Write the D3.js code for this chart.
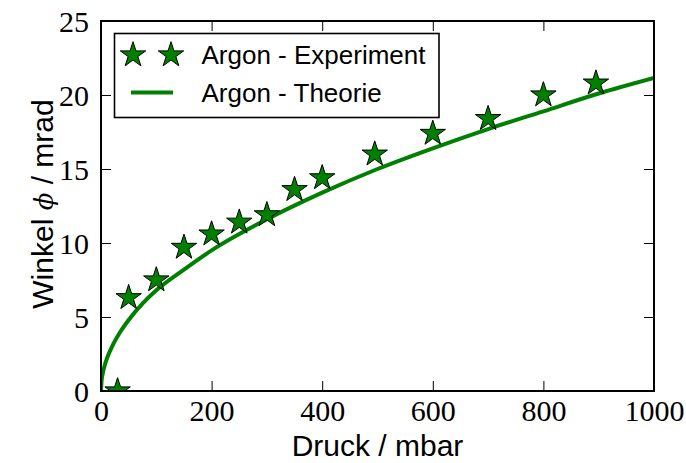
<!DOCTYPE html>
<html>
<head>
<meta charset="utf-8">
<script src="https://cdn.jsdelivr.net/npm/d3@7"></script>
<style>
  html, body { margin: 0; padding: 0; background: #ffffff; }
  svg { display: block; }
</style>
</head>
<body>
<svg id="chart" width="686" height="463"></svg>
<script>
// Measured deflection angle of argon vs. pressure
const expPressure = [30, 50, 100, 150, 200, 250, 300, 350, 400, 495, 600, 700, 800, 895];
const expAngle    = [0.0, 6.3, 7.5, 9.7, 10.6, 11.4, 11.9, 13.6, 14.4, 16.0, 17.4, 18.4, 20.0, 20.8];

// Theoretical curve, sampled
const theoPressure = [0, 1, 3, 6, 10, 20, 35, 50, 75, 100, 150, 200, 300, 400, 500, 600, 700, 800, 900, 1000];
const theoAngle    = [0, 0.67, 1.16, 1.64, 2.12, 3.0, 4.0, 4.8, 5.9, 6.8, 8.2, 9.5, 11.6, 13.4, 15.0, 16.4, 17.7, 18.9, 20.1, 21.15];

const xTicks = [0, 200, 400, 600, 800, 1000];
const yTicks = [0, 5, 10, 15, 20, 25];

const legendLabels = ["Argon - Experiment", "Argon - Theorie"];
const green = "#008000";

const svg = d3.select("#chart");
const box = { left: 101, right: 654, top: 21, bottom: 391 };

const x = d3.scaleLinear().domain([0, 1000]).range([box.left, box.right]);
const y = d3.scaleLinear().domain([0, 25]).range([box.bottom, box.top]);

svg.append("defs").append("clipPath").attr("id", "plotclip")
  .append("rect")
  .attr("x", box.left).attr("y", box.top)
  .attr("width", box.right - box.left).attr("height", box.bottom - box.top);

const plot = svg.append("g").attr("clip-path", "url(#plotclip)");

// theory curve
const line = d3.line()
  .x((d, i) => x(theoPressure[i]))
  .y((d, i) => y(theoAngle[i]))
  .curve(d3.curveMonotoneX);

plot.append("path")
  .datum(theoAngle)
  .attr("d", line)
  .attr("fill", "none")
  .attr("stroke", green)
  .attr("stroke-width", 4)
  .attr("stroke-linejoin", "round");

// experimental stars
const star = d3.symbol().type(d3.symbolStar).size(200);
plot.selectAll("path.star")
  .data(expAngle)
  .join("path")
  .attr("class", "star")
  .attr("d", star)
  .attr("transform", (d, i) => `translate(${x(expPressure[i])},${y(d)})`)
  .attr("fill", green)
  .attr("stroke", "#000")
  .attr("stroke-width", 1);

// axes with inward ticks on all four sides
function styleAxis(g) {
  g.select(".domain").remove();
  g.selectAll(".tick line").attr("stroke", "#000").attr("stroke-width", 1);
}

const xAxis = svg.append("g")
  .attr("transform", `translate(0,${box.bottom})`)
  .call(d3.axisBottom(x).tickValues(xTicks).tickSize(-10).tickFormat(d3.format("d")))
  .call(styleAxis);
xAxis.selectAll(".tick text")
  .attr("y", 30).attr("dy", 0)
  .attr("fill", "#000")
  .style("font-family", "'Liberation Serif', 'DejaVu Serif', serif")
  .style("font-size", "30px");

svg.append("g")
  .attr("transform", `translate(0,${box.top})`)
  .call(d3.axisTop(x).tickValues(xTicks).tickSize(-10).tickFormat(""))
  .call(styleAxis);

const yAxis = svg.append("g")
  .attr("transform", `translate(${box.left},0)`)
  .call(d3.axisLeft(y).tickValues(yTicks).tickSize(-10).tickFormat(d3.format("d")))
  .call(styleAxis);
yAxis.selectAll(".tick text")
  .attr("x", -12).attr("dy", 0).attr("y", 10.5)
  .attr("fill", "#000")
  .style("font-family", "'Liberation Serif', 'DejaVu Serif', serif")
  .style("font-size", "30px");

svg.append("g")
  .attr("transform", `translate(${box.right},0)`)
  .call(d3.axisRight(y).tickValues(yTicks).tickSize(-10).tickFormat(""))
  .call(styleAxis);

// frame
svg.append("rect")
  .attr("x", box.left).attr("y", box.top)
  .attr("width", box.right - box.left).attr("height", box.bottom - box.top)
  .attr("fill", "none").attr("stroke", "#000").attr("stroke-width", 2);

// axis labels
svg.append("text")
  .attr("x", (box.left + box.right) / 2).attr("y", 456)
  .attr("text-anchor", "middle")
  .style("font-family", "'Liberation Sans', Arial, sans-serif")
  .style("font-size", "30px")
  .text("Druck / mbar");

const ylab = svg.append("text")
  .attr("transform", `translate(53,${(box.top + box.bottom) / 2 - 2}) rotate(-90)`)
  .attr("text-anchor", "middle")
  .style("font-family", "'Liberation Sans', Arial, sans-serif")
  .style("font-size", "30px");
ylab.append("tspan").text("Winkel ");
ylab.append("tspan")
  .style("font-family", "'DejaVu Serif', serif")
  .style("font-style", "italic")
  .style("font-size", "26px")
  .text("\u03D5");
ylab.append("tspan").text(" / mrad");

// legend
const legend = svg.append("g");
legend.append("rect")
  .attr("x", 114.5).attr("y", 33.5)
  .attr("width", 324.5).attr("height", 84)
  .attr("fill", "#fff").attr("stroke", "#000").attr("stroke-width", 1.6);

legend.selectAll("path.lstar")
  .data([133, 171])
  .join("path")
  .attr("class", "lstar")
  .attr("d", star)
  .attr("transform", d => `translate(${d},55)`)
  .attr("fill", green)
  .attr("stroke", "#000")
  .attr("stroke-width", 1);

legend.append("line")
  .attr("x1", 131).attr("x2", 173)
  .attr("y1", 92.5).attr("y2", 92.5)
  .attr("stroke", green).attr("stroke-width", 4);

legend.selectAll("text")
  .data(legendLabels)
  .join("text")
  .attr("x", 201.5)
  .attr("y", (d, i) => [63.5, 101.5][i])
  .style("font-family", "'Liberation Sans', Arial, sans-serif")
  .style("font-size", "26px")
  .text(d => d);
</script>
</body>
</html>
